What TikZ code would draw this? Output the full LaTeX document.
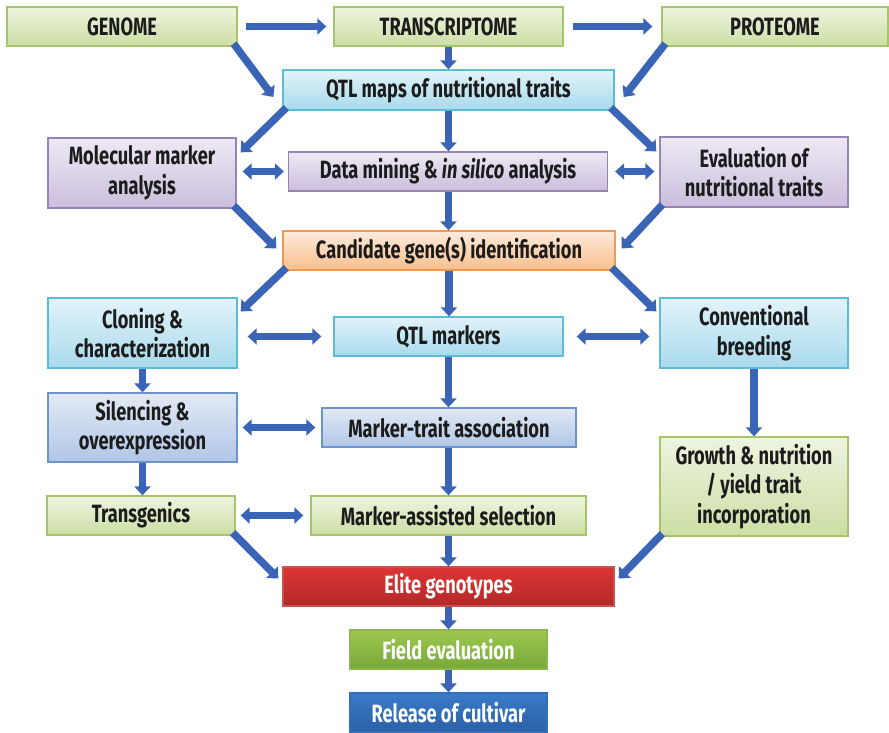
\documentclass[tikz,border=0pt]{standalone}
\usepackage{fontspec}
\setmainfont{Fira Sans}[FakeStretch=0.73]
\usetikzlibrary{arrows.meta,calc}

% box palettes
\definecolor{grTop}{HTML}{EEF4E0}\definecolor{grBot}{HTML}{CCDEA4}\definecolor{grLine}{HTML}{A6C46A}
\definecolor{cyTop}{HTML}{E2F3F9}\definecolor{cyBot}{HTML}{A8DAEC}\definecolor{cyLine}{HTML}{5BBCD8}
\definecolor{puTop}{HTML}{EEE9F4}\definecolor{puBot}{HTML}{CABEDC}\definecolor{puLine}{HTML}{9783B6}
\definecolor{orTop}{HTML}{FDEBDC}\definecolor{orBot}{HTML}{F9BF8C}\definecolor{orLine}{HTML}{F49A50}
\definecolor{blTop}{HTML}{E2EAF5}\definecolor{blBot}{HTML}{B0C6E6}\definecolor{blLine}{HTML}{6E93CC}
\definecolor{rdTop}{HTML}{DC3535}\definecolor{rdBot}{HTML}{B42828}\definecolor{rdLine}{HTML}{C9504D}
\definecolor{fgTop}{HTML}{9CC84E}\definecolor{fgBot}{HTML}{78A83A}\definecolor{fgLine}{HTML}{8DB64E}
\definecolor{rlTop}{HTML}{3A7BC8}\definecolor{rlBot}{HTML}{2A60A8}\definecolor{rlLine}{HTML}{3470B8}
\definecolor{flow}{HTML}{3A64B6}
\definecolor{ink}{HTML}{1C1C1C}

\begin{document}
\begin{tikzpicture}[x=1pt,y=-1pt,
  box/.style={draw, line width=1.3pt, inner sep=2pt, align=center,
    font=\fontsize{25}{29.5}\selectfont\bfseries, text=ink},
  gbox/.style={box, draw=grLine, top color=grTop, bottom color=grBot},
  cbox/.style={box, draw=cyLine, top color=cyTop, bottom color=cyBot},
  pbox/.style={box, draw=puLine, top color=puTop, bottom color=puBot},
  obox/.style={box, draw=orLine, top color=orTop, bottom color=orBot},
  bbox/.style={box, draw=blLine, top color=blTop, bottom color=blBot},
  rbox/.style={box, draw=rdLine, top color=rdTop, bottom color=rdBot, text=white},
  fbox/.style={box, draw=fgLine, top color=fgTop, bottom color=fgBot, text=white},
  lbox/.style={box, draw=rlLine, top color=rlTop, bottom color=rlBot, text=white},
  flowarrow/.style={draw=flow, line width=7.5pt, -{Triangle[width=16pt,length=9pt]}},
  twoway/.style={draw=flow, line width=7.5pt, {Triangle[width=16pt,length=9pt]}-{Triangle[width=16pt,length=9pt]}},
  sz/.style 2 args={minimum width=#1, minimum height=#2}
]
\useasboundingbox (0,0) rectangle (889,733);

% top row
\node[gbox, sz={230pt}{39pt}] (genome) at (122,26.5) {GENOME};
\node[gbox, sz={229pt}{39pt}] (transc) at (448.5,26.5) {TRANSCRIPTOME};
\node[gbox, sz={226pt}{39pt}] (prot) at (775,26.5) {PROTEOME};

\node[cbox, sz={331pt}{40pt}] (qtl) at (448.5,90) {QTL maps of nutritional traits};

\node[pbox, sz={188pt}{70pt}] (molec) at (142,173) {Molecular marker\\analysis};
\node[pbox, sz={319pt}{39pt}] (mining) at (448,171.5) {Data mining \& \textit{in silico} analysis};
\node[pbox, sz={188pt}{70pt}] (evalu) at (754,172) {Evaluation of\\nutritional traits};

\node[obox, sz={332pt}{39pt}] (cand) at (449,250.5) {Candidate gene(s) identification};

\node[cbox, sz={189pt}{70pt}] (clon) at (142.5,333) {Cloning \&\\characterization};
\node[cbox, sz={229pt}{39pt}] (qtlm) at (448.5,336.5) {QTL markers};
\node[cbox, sz={188pt}{70pt}] (conv) at (754,333) {Conventional\\breeding};

\node[bbox, sz={189pt}{69pt}] (silen) at (142.5,427.5) {Silencing \&\\overexpression};
\node[bbox, sz={254pt}{39pt}] (mta) at (449,427.5) {Marker-trait association};
\node[gbox, sz={188pt}{99pt}] (growth) at (754,486.5) {Growth \& nutrition\\/ yield trait\\incorporation};

\node[gbox, sz={188pt}{39pt}] (trans) at (141,515.5) {Transgenics};
\node[gbox, sz={275pt}{39pt}] (mas) at (448.5,515.5) {Marker-assisted selection};

\node[rbox, sz={331pt}{39pt}] (elite) at (448.5,586.5) {Elite genotypes};
\node[fbox, sz={197pt}{39pt}] (field) at (448.5,649.5) {Field evaluation};
\node[lbox, sz={197pt}{39pt}] (release) at (448.5,712.5) {Release of cultivar};

% horizontal flow along the top
\draw[flowarrow, shorten <=8pt, shorten >=7pt] (genome.east) -- (transc.west);
\draw[flowarrow, shorten <=9pt, shorten >=9pt] (transc.east) -- (prot.west);

% diagonal links
\draw[flowarrow] ($(genome.south east)+(-4,-3)$) -- ($(qtl.west)+(-9,7)$);
\draw[flowarrow] ($(prot.south west)+(4,-3)$) -- ($(qtl.east)+(9,7)$);
\draw[flowarrow] ($(qtl.south west)+(4,-3)$) -- ($(molec.north east)+(4,15)$);
\draw[flowarrow] ($(qtl.south east)+(-4,-3)$) -- ($(evalu.north west)+(-3,15)$);
\draw[flowarrow] ($(molec.south east)+(-3,-3)$) -- ($(cand.west)+(-6,-2)$);
\draw[flowarrow] ($(evalu.south west)+(3,-3)$) -- ($(cand.east)+(6,-2)$);
\draw[flowarrow] ($(cand.south west)+(4,-3)$) -- ($(clon.north east)+(3,14)$);
\draw[flowarrow] ($(cand.south east)+(-4,-3)$) -- ($(conv.north west)+(-3,14)$);
\draw[flowarrow] ($(trans.south east)+(-3,-3)$) -- ($(elite.west)+(-4,-8)$);
\draw[flowarrow] ($(growth.south west)+(3,-3)$) -- ($(elite.east)+(4,-8)$);

% vertical links
\draw[flowarrow] (transc.south) -- (transc.south |- qtl.north);
\draw[flowarrow] (qtl.south) -- (qtl.south |- mining.north);
\draw[flowarrow] (qtl.south |- mining.south) -- (qtl.south |- cand.north);
\draw[flowarrow] (cand.south) -- (cand.south |- qtlm.north);
\draw[flowarrow] (qtlm.south) -- (qtlm.south |- mta.north);
\draw[flowarrow] (qtlm.south |- mta.south) -- (qtlm.south |- mas.north);
\draw[flowarrow] (mas.south) -- (mas.south |- elite.north);
\draw[flowarrow] (elite.south) -- (field.north);
\draw[flowarrow] (field.south) -- (release.north);
\draw[flowarrow] (clon.south) -- (silen.north);
\draw[flowarrow] (silen.south) -- (silen.south |- trans.north);
\draw[flowarrow] (conv.south) -- (growth.north);

% two-way links
\draw[twoway, shorten <=6pt, shorten >=4pt] (molec.east |- mining.west) -- (mining.west);
\draw[twoway, shorten <=7pt, shorten >=5pt] (mining.east) -- (evalu.west |- mining.east);
\draw[twoway, shorten <=10pt, shorten >=12pt] (clon.east |- qtlm.west) -- (qtlm.west);
\draw[twoway, shorten <=13pt, shorten >=10pt] (qtlm.east) -- (conv.west |- qtlm.east);
\draw[twoway, shorten <=5pt, shorten >=6pt] (silen.east |- mta.west) -- (mta.west);
\draw[twoway, shorten <=5pt, shorten >=7pt] (trans.east) -- (mas.west);
\end{tikzpicture}
\end{document}
